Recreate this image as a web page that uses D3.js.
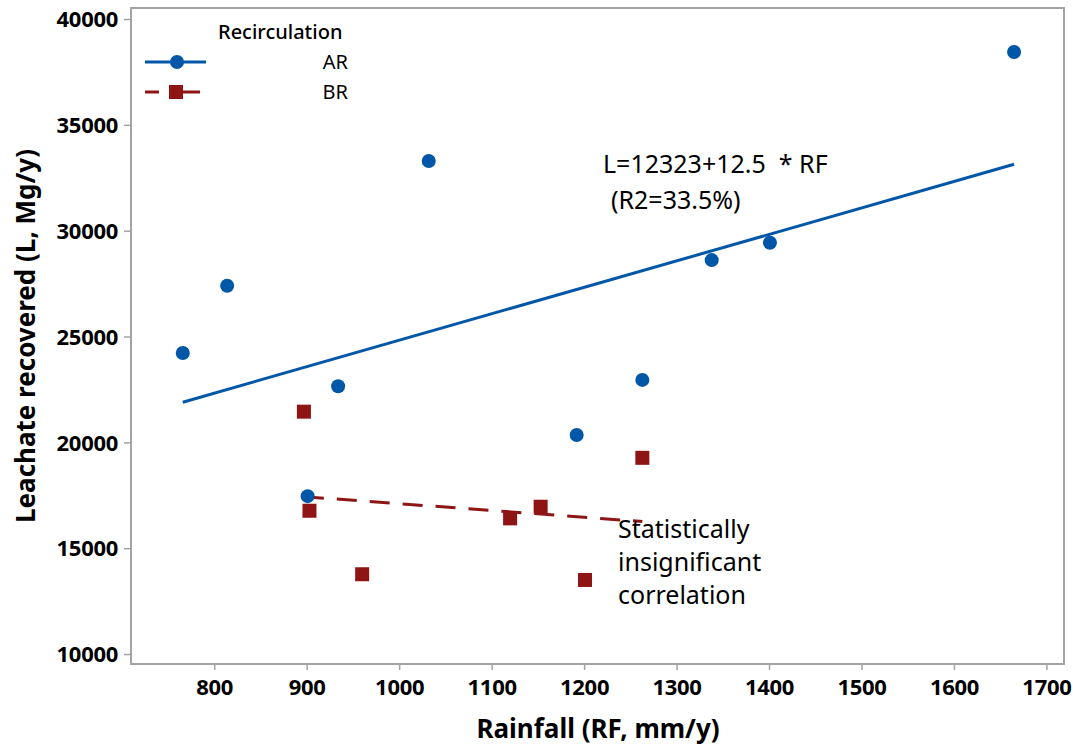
<!DOCTYPE html>
<html>
<head>
<meta charset="utf-8">
<script src="https://cdn.jsdelivr.net/npm/d3@7"></script>
<style>
  body { margin: 0; background: #fff; }
  text { font-family: "Noto Sans", "Open Sans", sans-serif; }
</style>
</head>
<body>
<svg id="viz" width="1073" height="746"></svg>
<script>
// rainfall (mm/y) vs leachate recovered (Mg/y)
const arRainfall = [766, 814, 934, 1032, 901, 1192, 1263, 1338, 1401, 1665]
const arLeachate = [24220, 27400, 22650, 33290, 17460, 20350, 22950, 28610, 29430, 38440]
const brRainfall = [897, 903, 960, 1120, 1153, 1201, 1263]
const brLeachate = [21450, 16770, 13770, 16410, 16960, 13500, 19270]

// AR fit as printed on the chart
const arFit = { a: 12323, b: 12.5 }

const xTicks = [800, 900, 1000, 1100, 1200, 1300, 1400, 1500, 1600, 1700]
const yTicks = [10000, 15000, 20000, 25000, 30000, 35000, 40000]

const BLUE = '#0057a8'
const RED = '#8f1515'
const GREY = '#a3a3a3'

const svg = d3.select('svg#viz')
const plot = { left: 131, right: 1064, top: 8, bottom: 664 }

const x = d3.scaleLinear().domain([710, 1719]).range([plot.left, plot.right])
const y = d3.scaleLinear().domain([9530, 40520]).range([plot.bottom, plot.top])

const ar = arRainfall.map((d, i) => ({ x: d, y: arLeachate[i] }))
const br = brRainfall.map((d, i) => ({ x: d, y: brLeachate[i] }))

// least squares line for BR
let linfit = function(pts) {
    const mx = d3.mean(pts, d => d.x), my = d3.mean(pts, d => d.y)
    const sxy = d3.sum(pts, d => (d.x - mx) * (d.y - my))
    const sxx = d3.sum(pts, d => (d.x - mx) * (d.x - mx))
    const b = sxy / sxx
    return { a: my - b * mx, b: b }
}
const brFit = linfit(br)

// axes
const xAxis = svg.append('g')
    .attr('transform', `translate(0, ${plot.bottom})`)
    .call(d3.axisBottom(x).tickValues(xTicks).tickSize(6).tickPadding(7).tickFormat(d3.format('d')))
const yAxis = svg.append('g')
    .attr('transform', `translate(${plot.left}, 0)`)
    .call(d3.axisLeft(y).tickValues(yTicks).tickSize(7).tickPadding(6).tickFormat(d3.format('d')))

svg.selectAll('.domain').remove()
svg.selectAll('.tick line').attr('stroke', GREY).attr('stroke-width', 1.5)
svg.selectAll('.tick text')
    .attr('fill', '#000')
    .style('font-size', '22px')
    .style('font-weight', 'bold')
    .style('letter-spacing', '-0.3px')
    .style('font-family', '"Noto Sans", sans-serif')
xAxis.selectAll('.tick text').attr('dy', '0.8em')
yAxis.selectAll('.tick text').attr('dy', '0.35em')

// frame
svg.append('rect')
    .attr('x', plot.left).attr('y', plot.top)
    .attr('width', plot.right - plot.left).attr('height', plot.bottom - plot.top)
    .attr('fill', 'none').attr('stroke', GREY).attr('stroke-width', 2)

// axis titles
svg.append('text')
    .attr('x', 598).attr('y', 738)
    .attr('text-anchor', 'middle')
    .style('font-size', '26px').style('font-weight', 'bold')
    .text('Rainfall (RF, mm/y)')
svg.append('text')
    .attr('transform', 'translate(35, 336) rotate(-90)')
    .attr('text-anchor', 'middle')
    .style('font-size', '26px').style('font-weight', 'bold')
    .text('Leachate recovered (L, Mg/y)')

// fit lines
const arX = d3.extent(arRainfall)
svg.append('line')
    .attr('x1', x(arX[0])).attr('y1', y(arFit.a + arFit.b * arX[0]))
    .attr('x2', x(arX[1])).attr('y2', y(arFit.a + arFit.b * arX[1]))
    .attr('stroke', BLUE).attr('stroke-width', 3)

const brX = d3.extent(brRainfall)
svg.append('line')
    .attr('x1', x(brX[0])).attr('y1', y(brFit.a + brFit.b * brX[0]))
    .attr('x2', x(brX[1])).attr('y2', y(brFit.a + brFit.b * brX[1]))
    .attr('stroke', RED).attr('stroke-width', 3)
    .attr('stroke-dasharray', '20 13')

// points
svg.append('g').selectAll('rect')
    .data(br)
    .join('rect')
    .attr('x', d => x(d.x) - 7)
    .attr('y', d => y(d.y) - 7)
    .attr('width', 14).attr('height', 14)
    .attr('fill', RED)

svg.append('g').selectAll('circle')
    .data(ar)
    .join('circle')
    .attr('cx', d => x(d.x))
    .attr('cy', d => y(d.y))
    .attr('r', 7)
    .attr('fill', BLUE)

// legend
const legend = svg.append('g')
legend.append('text')
    .attr('x', 218).attr('y', 39)
    .style('font-size', '20px').style('font-weight', 500)
    .text('Recirculation')
legend.append('line')
    .attr('x1', 145).attr('x2', 206).attr('y1', 62).attr('y2', 62)
    .attr('stroke', BLUE).attr('stroke-width', 3)
legend.append('circle')
    .attr('cx', 177).attr('cy', 62).attr('r', 7).attr('fill', BLUE)
legend.append('line')
    .attr('x1', 145).attr('x2', 200).attr('y1', 92).attr('y2', 92)
    .attr('stroke', RED).attr('stroke-width', 3)
    .attr('stroke-dasharray', '14 24 30')
legend.append('rect')
    .attr('x', 169).attr('y', 85).attr('width', 14).attr('height', 14).attr('fill', RED)
legend.append('text')
    .attr('x', 348).attr('y', 69).attr('text-anchor', 'end')
    .style('font-size', '20px')
    .text('AR')
legend.append('text')
    .attr('x', 348).attr('y', 99).attr('text-anchor', 'end')
    .style('font-size', '20px')
    .text('BR')

// annotations
svg.append('text')
    .attr('x', 603).attr('y', 173)
    .style('font-size', '25px').style('white-space', 'pre')
    .text('L=12323+12.5  * RF')
svg.append('text')
    .attr('x', 611).attr('y', 209)
    .style('font-size', '25px')
    .text('(R2=33.5%)')

const note = ['Statistically', 'insignificant', 'correlation']
svg.append('g').selectAll('text')
    .data(note)
    .join('text')
    .attr('x', 618)
    .attr('y', (d, i) => 538 + i * 33)
    .style('font-size', '25px')
    .text(d => d)
</script>
</body>
</html>
